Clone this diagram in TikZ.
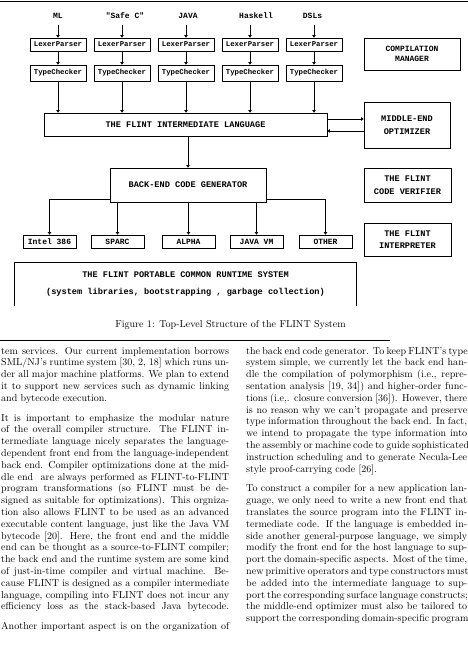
\documentclass[tikz,border=0pt]{standalone}
\usepackage{fontspec}
\newfontfamily\figmono{Liberation Mono}
\usetikzlibrary{arrows.meta}
\newlength\colwL \setlength\colwL{228pt}
\newlength\colwR \setlength\colwR{221pt}
\newcommand\jL[1]{\makebox[\colwL][s]{#1}}
\newcommand\jR[1]{\makebox[\colwR][s]{#1}}
\newcommand\bodyfont{\fontsize{10.05}{11.8}\selectfont}
\begin{document}
\begin{tikzpicture}[x=1pt,y=-1pt,
  ln/.style={line width=0.6pt},
  box/.style={draw, line width=0.6pt, inner sep=0pt, align=center, font=\figmono\bfseries\fontsize{8.6}{13}\selectfont},
  smallbox/.style={box, minimum width=56pt, font=\figmono\bfseries\fontsize{7.3}{9}\selectfont},
  tgt/.style={box, minimum width=53pt, minimum height=13pt, font=\figmono\bfseries\fontsize{8}{9}\selectfont},
  lbl/.style={inner sep=0pt, font=\figmono\bfseries\fontsize{8}{9}\selectfont},
  arr/.style={-{Triangle[length=2.6pt,width=3.4pt]}, line width=0.6pt},
  bl/.style={anchor=mid west, inner sep=0pt, font=\bodyfont},
]
\useasboundingbox (0,0) rectangle (468,648);

% rules
\draw[ln] (0,0.8) -- (468,0.8);
\draw[ln] (0,340) -- (390,340);

% front-end columns
\node[lbl] (lab1) at (58,16) {ML};
\node[lbl] (lab2) at (125,16) {\symbol{34}Safe C\symbol{34}};
\node[lbl] (lab3) at (188,16) {JAVA};
\node[lbl] (lab4) at (256,16) {Haskell};
\node[lbl] (lab5) at (312.5,16) {DSLs};

\foreach \i/\cx in {1/58,2/122,3/186,4/250,5/314}{
  \node[smallbox, minimum height=13pt] (lp\i) at (\cx,44.5) {LexerParser};
  \node[smallbox, minimum height=16pt] (tc\i) at (\cx,73) {TypeChecker};
}

\node[box, minimum width=283pt, minimum height=23pt] (il) at (185.5,124.5) {THE FLINT INTERMEDIATE LANGUAGE};
\node[box, minimum width=96pt, minimum height=32pt, font=\figmono\bfseries\fontsize{8}{10}\selectfont] (cm) at (412,54) {COMPILATION\\MANAGER};
\node[box, minimum width=86pt, minimum height=46pt] (meo) at (407,125) {MIDDLE-END\\OPTIMIZER};
\node[box, minimum width=156pt, minimum height=34pt] (becg) at (188,185) {BACK-END CODE GENERATOR};
\node[box, minimum width=87pt, minimum height=34pt] (ver) at (407.5,185) {THE FLINT\\CODE VERIFIER};
\node[box, minimum width=87pt, minimum height=33pt, font=\figmono\bfseries\fontsize{8.6}{12}\selectfont] (int) at (407.5,239.5) {THE FLINT\\INTERPRETER};

\node[tgt] (t1) at (49.5,241.5) {Intel 386};
\node[tgt] (t2) at (117.5,241.5) {SPARC};
\node[tgt] (t3) at (188.5,241.5) {ALPHA};
\node[tgt] (t4) at (256.5,241.5) {JAVA VM};
\node[tgt] (t5) at (325.5,241.5) {OTHER};

\node[box, draw=none, minimum width=341pt, minimum height=43pt, font=\figmono\bfseries\fontsize{8.6}{17}\selectfont] (rts) at (185.5,284)
  {THE FLINT PORTABLE COMMON RUNTIME SYSTEM\\(system libraries, bootstrapping , garbage collection)};
\draw[ln] (rts.south west) -- (rts.north west) -- (rts.north east) -- (rts.south east);

% connectors
\foreach \i in {1,...,5}{
  \draw[arr] ([yshift=-6pt]lab\i.south -| lp\i.north) -- (lp\i.north);
  \draw[arr] (lp\i.south) -- (tc\i.north);
  \draw[arr] (tc\i.south) -- (tc\i.south |- il.north);
}
\draw[arr] ([yshift=5.5pt]il.east) -- ([yshift=5.5pt]il.east -| meo.west);
\draw[arr] ([yshift=-6.5pt]il.east -| meo.west) -- ([yshift=-6.5pt]il.east);
\draw[arr] (becg.north |- il.south) -- (becg.north);
\draw[arr] ([yshift=3pt]becg.south west) -| (t1.north);
\draw[arr] (becg.south -| t2.north) -- (t2.north);
\draw[arr] (becg.south -| t3.north) -- (t3.north);
\draw[arr] (becg.south -| t4.north) -- (t4.north);
\draw[arr] ([yshift=3pt]becg.south east) -| (t5.north);

% caption
\node[inner sep=0pt, font=\bodyfont] (cap) at (230.5,325) {Figure 1: Top-Level Structure of the FLINT System};

% left column
\node[bl] (L1) at (1,352.0) {\jL{tem services. Our current implementation borrows}};
\node[bl] (L2) at (1,363.8) {\jL{SML/NJ's runtime system [30, 2, 18] which runs un-}};
\node[bl] (L3) at (1,375.6) {\jL{der all major machine platforms. We plan to extend}};
\node[bl] (L4) at (1,387.4) {\jL{it to support new services such as dynamic linking}};
\node[bl] (L5) at (1,399.2) {and bytecode execution.};
\node[bl] (L6) at (1,419.0) {\jL{It is important to emphasize the modular nature}};
\node[bl] (L7) at (1,430.8) {\jL{of the overall compiler structure. The FLINT in-}};
\node[bl] (L8) at (1,442.6) {\jL{termediate language nicely separates the language-}};
\node[bl] (L9) at (1,454.4) {\jL{dependent front end from the language-independent}};
\node[bl] (L10) at (1,466.2) {\jL{back end. Compiler optimizations done at the mid-}};
\node[bl] (L11) at (1,478.0) {\jL{dle end \ are always performed as FLINT-to-FLINT}};
\node[bl] (L12) at (1,489.8) {\jL{program transformations (so FLINT must be de-}};
\node[bl] (L13) at (1,501.6) {\jL{signed as suitable for optimizations). This orgniza-}};
\node[bl] (L14) at (1,513.4) {\jL{tion also allows FLINT to be used as an advanced}};
\node[bl] (L15) at (1,525.2) {\jL{executable content language, just like the Java VM}};
\node[bl] (L16) at (1,537.0) {\jL{bytecode [20]. Here, the front end and the middle}};
\node[bl] (L17) at (1,548.8) {\jL{end can be thought as a source-to-FLINT compiler;}};
\node[bl] (L18) at (1,560.6) {\jL{the back end and the runtime system are some kind}};
\node[bl] (L19) at (1,572.4) {\jL{of just-in-time compiler and virtual machine. Be-}};
\node[bl] (L20) at (1,584.2) {\jL{cause FLINT is designed as a compiler intermediate}};
\node[bl] (L21) at (1,596.0) {\jL{language, compiling into FLINT does not incur any}};
\node[bl] (L22) at (1,607.8) {\jL{efficiency loss as the stack-based Java bytecode.}};
\node[bl] (L23) at (1,627.6) {\jL{Another important aspect is on the organization of}};

% right column
\node[bl] (R1) at (246,352.0) {\jR{the back end code generator. To keep FLINT's type}};
\node[bl] (R2) at (246,363.8) {\jR{system simple, we currently let the back end han-}};
\node[bl] (R3) at (246,375.6) {\jR{dle the compilation of polymorphism (i.e., repre-}};
\node[bl] (R4) at (246,387.4) {\jR{sentation analysis [19, 34]) and higher-order func-}};
\node[bl] (R5) at (246,399.2) {\jR{tions (i.e,. closure conversion [36]). However, there}};
\node[bl] (R6) at (246,411.0) {\jR{is no reason why we can't propagate and preserve}};
\node[bl] (R7) at (246,422.8) {\jR{type information throughout the back end. In fact,}};
\node[bl] (R8) at (246,434.6) {\jR{we intend to propagate the type information into}};
\node[bl] (R9) at (246,446.4) {\jR{the assembly or machine code to guide sophisticated}};
\node[bl] (R10) at (246,458.2) {\jR{instruction scheduling and to generate Necula-Lee}};
\node[bl] (R11) at (246,470.0) {style proof-carrying code [26].};
\node[bl] (R12) at (246,489.8) {\jR{To construct a compiler for a new application lan-}};
\node[bl] (R13) at (246,501.6) {\jR{guage, we only need to write a new front end that}};
\node[bl] (R14) at (246,513.4) {\jR{translates the source program into the FLINT in-}};
\node[bl] (R15) at (246,525.2) {\jR{termediate code. If the language is embedded in-}};
\node[bl] (R16) at (246,537.0) {\jR{side another general-purpose language, we simply}};
\node[bl] (R17) at (246,548.8) {\jR{modify the front end for the host language to sup-}};
\node[bl] (R18) at (246,560.6) {\jR{port the domain-specific aspects. Most of the time,}};
\node[bl] (R19) at (246,572.4) {\jR{new primitive operators and type constructors must}};
\node[bl] (R20) at (246,584.2) {\jR{be added into the intermediate language to sup-}};
\node[bl] (R21) at (246,596.0) {\jR{port the corresponding surface language constructs;}};
\node[bl] (R22) at (246,607.8) {\jR{the middle-end optimizer must also be tailored to}};
\node[bl] (R23) at (246,619.6) {\jR{support the corresponding domain-specific program}};
\end{tikzpicture}
\end{document}
